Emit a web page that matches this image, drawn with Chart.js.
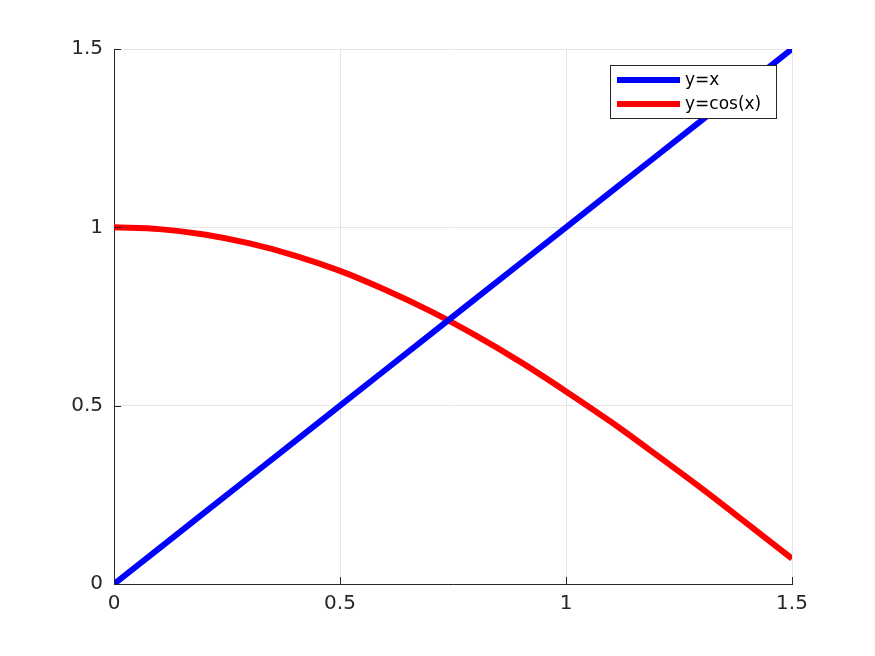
<!DOCTYPE html>
<html>

<head>
  <title>y=x and y=cos(x)</title>
  <script src="https://cdn.jsdelivr.net/npm/chart.js"></script>
  <style>
    body {
      margin: 0;
      background: #fff;
    }

    #chartContainer {
      width: 875px;
      height: 656px;
    }
  </style>
</head>

<body>
  <div id="chartContainer">
    <canvas id="myChart"></canvas>
  </div>

  <script>
    const xValues = [0, 0.1, 0.2, 0.3, 0.4, 0.5, 0.6, 0.7, 0.8, 0.9, 1.0, 1.1, 1.2, 1.3, 1.4, 1.5];
    const lineValues = [0, 0.1, 0.2, 0.3, 0.4, 0.5, 0.6, 0.7, 0.8, 0.9, 1.0, 1.1, 1.2, 1.3, 1.4, 1.5];
    const cosValues = [1.0, 0.995, 0.98, 0.955, 0.921, 0.878, 0.825, 0.765, 0.697, 0.622, 0.540, 0.454, 0.362, 0.268, 0.170, 0.071];
    const seriesLabels = ['y=x', 'y=cos(x)'];
    const tickValues = [0, 0.5, 1, 1.5];

    const toPoints = (ys) => ys.map((y, i) => ({ x: xValues[i], y: y }));

    // inward tick marks + boxed legend, like the original figure
    const figureExtras = {
      id: 'figureExtras',
      afterDraw(chart) {
        const ctx = chart.ctx;
        const xs = chart.scales.x, ys = chart.scales.y;
        const area = chart.chartArea;
        ctx.save();
        ctx.strokeStyle = '#262626';
        ctx.lineWidth = 1;
        tickValues.forEach(v => {
          const px = Math.round(xs.getPixelForValue(v)) + 0.5;
          ctx.beginPath();
          ctx.moveTo(px, area.bottom);
          ctx.lineTo(px, area.bottom - 7);
          ctx.stroke();
          const py = Math.round(ys.getPixelForValue(v)) + 0.5;
          ctx.beginPath();
          ctx.moveTo(area.left, py);
          ctx.lineTo(area.left + 7, py);
          ctx.stroke();
        });

        // legend
        const bx = 610.5, by = 65.5, bw = 166, bh = 53;
        ctx.fillStyle = '#fff';
        ctx.fillRect(bx, by, bw, bh);
        ctx.strokeStyle = '#262626';
        ctx.strokeRect(bx, by, bw, bh);
        ctx.font = '17px "DejaVu Sans"';
        ctx.textBaseline = 'middle';
        chart.data.datasets.forEach((ds, i) => {
          const y = 80 + i * 24;
          ctx.strokeStyle = ds.borderColor;
          ctx.lineWidth = 6;
          ctx.beginPath();
          ctx.moveTo(617, y);
          ctx.lineTo(680, y);
          ctx.stroke();
          ctx.fillStyle = '#000';
          ctx.fillText(ds.label, 685, y + 1);
        });
        ctx.restore();
      }
    };

    const ctx = document.getElementById('myChart').getContext('2d');
    new Chart(ctx, {
      type: 'line',
      data: {
        datasets: [
          {
            label: seriesLabels[0],
            data: toPoints(lineValues),
            borderColor: '#0000ff',
            borderWidth: 6,
            pointRadius: 0,
            fill: false
          },
          {
            label: seriesLabels[1],
            data: toPoints(cosValues),
            borderColor: '#ff0000',
            borderWidth: 6,
            pointRadius: 0,
            cubicInterpolationMode: 'monotone',
            fill: false
          }
        ]
      },
      options: {
        responsive: true,
        maintainAspectRatio: false,
        animation: false,
        layout: {
          padding: { left: 0, right: 83, top: 49, bottom: 0 }
        },
        scales: {
          x: {
            type: 'linear',
            min: 0,
            max: 1.5,
            afterBuildTicks: (scale) => { scale.ticks = tickValues.map(v => ({ value: v })); },
            afterFit: (scale) => { scale.height = 72; },
            grid: { color: '#e5e5e5', drawTicks: false },
            border: { color: '#262626' },
            ticks: {
              color: '#262626',
              font: { family: 'DejaVu Sans', size: 20 },
              padding: 8,
              callback: (v) => String(v)
            }
          },
          y: {
            type: 'linear',
            min: 0,
            max: 1.5,
            afterBuildTicks: (scale) => { scale.ticks = tickValues.map(v => ({ value: v })); },
            afterFit: (scale) => { scale.width = 114; },
            grid: { color: '#e5e5e5', drawTicks: false },
            border: { color: '#262626' },
            ticks: {
              color: '#262626',
              font: { family: 'DejaVu Sans', size: 20 },
              padding: 11,
              callback: (v) => String(v)
            }
          }
        },
        plugins: {
          legend: { display: false },
          tooltip: { enabled: false }
        }
      },
      plugins: [figureExtras]
    });
  </script>
</body>

</html>
